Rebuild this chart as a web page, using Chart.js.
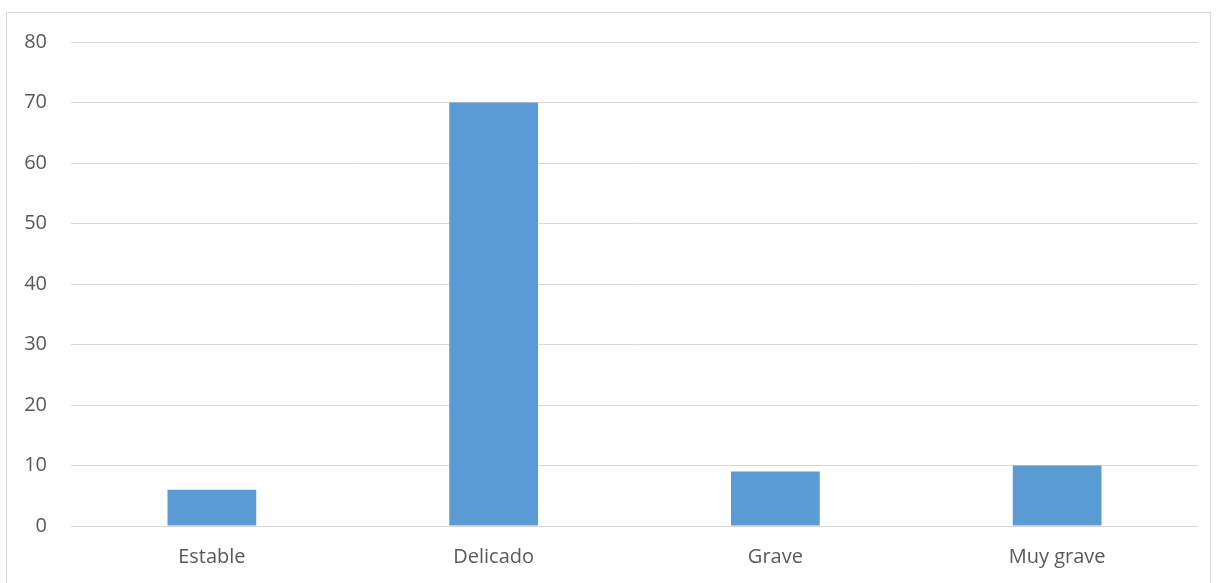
<!DOCTYPE html>
<html>
<head>
<meta charset="utf-8">
<script src="https://cdn.jsdelivr.net/npm/chart.js@4/dist/chart.umd.min.js"></script>
<style>
  html, body { margin: 0; padding: 0; background: #fff; overflow: hidden; }
  #marco {
    position: absolute; left: 6px; top: 12px;
    width: 1203px; height: 580px;
    border: 1px solid #D9D9D9;
  }
  #estadoChart { position: absolute; left: 7px; top: 6px; display: block; }
</style>
</head>
<body>
<div id="marco"></div>
<canvas id="estadoChart" width="1203" height="577"></canvas>
<script>
const categorias = ['Estable', 'Delicado', 'Grave', 'Muy grave']
const pacientes = [6, 70, 9, 10]
const ticksY = [0, 10, 20, 30, 40, 50, 60, 70, 80]

const ctx = document.getElementById('estadoChart').getContext('2d');
const estadoChart = new Chart(ctx, {
    type: 'bar',
    data: {
        labels: categorias,
        datasets: [{
            data: pacientes,
            backgroundColor: '#5B9BD5',
            borderWidth: 0,
            barPercentage: 0.315,
            categoryPercentage: 1
        }]
    },
    options: {
        responsive: false,
        animation: false,
        layout: {
            padding: { top: 0, right: 12, left: 0, bottom: 0 }
        },
        plugins: {
            legend: { display: false },
            tooltip: { enabled: false }
        },
        scales: {
            x: {
                grid: { display: false },
                border: { display: false },
                ticks: {
                    color: '#595959',
                    padding: 11,
                    font: { family: 'Open Sans', size: 20 }
                },
                afterFit: (scale) => { scale.height = 57 }
            },
            y: {
                min: 0,
                max: 80,
                afterBuildTicks: (scale) => {
                    scale.ticks = ticksY.map(v => ({ value: v }))
                },
                grid: { color: '#D9D9D9', lineWidth: 1, drawTicks: false },
                border: { display: false },
                ticks: {
                    color: '#595959',
                    padding: 24,
                    font: { family: 'Open Sans', size: 20 }
                },
                afterFit: (scale) => { scale.width = 64 }
            }
        }
    }
});
</script>
</body>
</html>
